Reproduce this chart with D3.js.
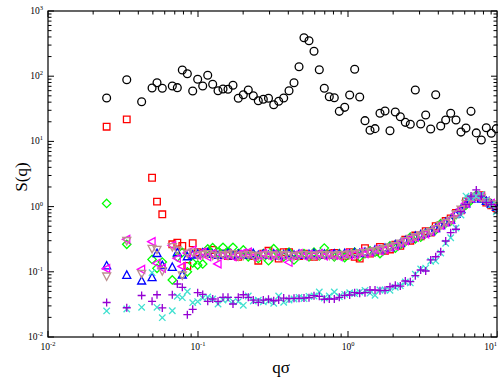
<!DOCTYPE html>
<html><head><meta charset="utf-8">
<script src="https://cdn.jsdelivr.net/npm/d3@7"></script>
<style>html,body{margin:0;padding:0;background:#fff;}svg{display:block;}</style>
</head><body><svg id="c" width="498" height="385"></svg>
<script>
const qValues = [0.0246,0.0335,0.0421,0.0494,0.0533,0.0578,0.0674,0.0728,0.0786,0.0849,0.0922,0.0995,0.1075,0.1161,0.1253,0.136,0.1468,0.1585,0.1711,0.1856,0.2005,0.2164,0.2337,0.2523,0.2725,0.2951,0.3197,0.3451,0.3726,0.4044,0.4365,0.4715,0.5088,0.5495,0.5934,0.6437,0.695,0.7504,0.8103,0.875,0.9506,1.026,1.108,1.197,1.298,1.402,1.514,1.634,1.765,1.905,2.067,2.232,2.41,2.602,2.81,3.052,3.296,3.558,3.843,4.15,4.48,4.838,5.248,5.665,6.116,6.607,7.166,7.739,8.356,9.022,9.743];
const sCircle = [46.3,88.4,40.6,65.9,79.5,65.2,70.8,66.7,124.5,109.2,59.3,89.7,70.8,103.2,75.1,59.9,63.6,63.0,72.5,45.8,52.0,61.4,50.2,42.1,44.2,46.0,36.5,41.2,46.3,59.9,79.5,139.9,389.5,350.4,240.9,125.8,65.2,48.5,46.8,28.9,33.3,51.5,127.6,48.0,20.8,14.8,15.7,27.0,29.3,14.6,28.2,23.9,19.6,18.3,61.4,18.5,25.4,15.5,52.0,17.2,21.3,27.0,21.3,13.9,16.0,28.9,13.5,10.5,16.2,13.3,15.7];
const sSquare = [16.8,21.8,null,2.77,1.19,0.762,0.264,0.279,0.249,0.123,0.274,0.2,0.19,0.2,0.216,0.18,0.19,0.175,0.185,0.17,0.18,0.19,0.175,0.148,0.19,0.21,0.18,0.16,0.2,0.2,0.18,0.175,0.19,0.18,0.17,0.185,0.18,0.19,0.195,0.18,0.175,0.2,0.17,0.16,0.23,0.19,0.2,0.24,0.21,0.22,0.26,0.25,0.31,0.3,0.36,0.35,0.42,0.4,0.5,0.52,0.6,0.66,0.8,0.88,1.2,1.3,1.4,1.5,1.15,1.05,0.95];
const sDiamond = [1.12,0.264,null,0.155,0.113,0.141,0.0749,0.169,0.198,0.1,0.137,0.127,0.132,0.224,0.234,0.2,0.237,0.2,0.237,0.19,0.216,0.17,0.185,0.16,0.19,0.148,0.226,0.19,0.17,0.2,0.152,0.18,0.19,0.17,0.2,0.175,0.231,0.185,0.17,0.19,0.165,0.185,0.2,0.17,0.19,0.21,0.2,0.19,0.22,0.25,0.23,0.26,0.29,0.34,0.32,0.34,0.39,0.42,0.44,0.55,0.56,0.6,0.75,0.9,1.05,1.25,1.5,1.35,1.2,1.1,1.0];
const sTriUp = [0.123,0.0884,0.0722,0.0812,0.191,0.125,0.117,0.196,0.0893,0.17,0.181,0.188,0.194,0.196,0.185,0.178,0.183,0.19,0.176,0.185,0.18,0.182,0.19,0.178,0.185,0.18,0.188,0.176,0.183,0.19,0.18,0.186,0.178,0.184,0.19,0.182,0.186,0.18,0.188,0.185,0.19,0.186,0.195,0.19,0.2,0.2,0.215,0.215,0.23,0.235,0.26,0.27,0.3,0.32,0.35,0.37,0.39,0.41,0.46,0.51,0.57,0.62,0.76,0.9,1.1,1.3,1.45,1.3,1.2,1.08,0.97];
const sTriLeft = [0.1116,0.315,0.109,0.29,0.135,0.114,0.255,0.161,0.121,0.194,0.216,0.18,0.2,0.17,0.19,0.132,0.18,0.19,0.17,0.185,0.195,0.2,0.17,0.18,0.19,0.175,0.185,0.17,0.18,0.14,0.18,0.19,0.175,0.185,0.18,0.19,0.175,0.185,0.18,0.17,0.19,0.18,0.185,0.2,0.19,0.2,0.22,0.21,0.22,0.24,0.25,0.28,0.3,0.33,0.34,0.37,0.38,0.42,0.47,0.52,0.58,0.63,0.78,0.92,1.12,1.35,1.42,1.4,1.22,1.12,1.02];
const sTriDown = [0.0862,0.302,0.0942,0.228,0.221,0.104,0.243,0.216,0.0893,0.194,0.2,0.18,0.185,0.19,0.18,0.175,0.185,0.18,0.19,0.175,0.18,0.185,0.18,0.175,0.18,0.185,0.178,0.18,0.185,0.18,0.175,0.18,0.185,0.18,0.178,0.18,0.185,0.18,0.178,0.185,0.182,0.188,0.19,0.195,0.198,0.205,0.21,0.218,0.228,0.24,0.255,0.275,0.3,0.325,0.345,0.365,0.39,0.415,0.46,0.52,0.57,0.62,0.77,0.91,1.12,1.34,1.45,1.39,1.19,1.1,1.0];
const sPlus = [0.0338,0.0281,0.0433,0.0353,0.0445,0.0279,0.0444,0.065,0.0578,0.022,0.0266,0.0478,0.0449,0.0353,0.0383,0.0353,0.0406,0.0406,0.0321,0.0406,0.0445,0.0406,0.0369,0.034,0.0369,0.0379,0.036,0.0369,0.0396,0.0387,0.0392,0.0392,0.0396,0.0401,0.043,0.0421,0.0379,0.0383,0.0383,0.0406,0.0436,0.0441,0.0478,0.0468,0.0478,0.0526,0.0526,0.0513,0.052,0.059,0.0621,0.0605,0.0722,0.0705,0.0871,0.1066,0.1028,0.152,0.17,0.203,0.297,0.398,0.449,0.835,1.08,1.45,1.8,1.45,1.16,1.08,0.909];
const sCross = [0.0251,0.0269,0.0285,0.0969,0.0285,0.0198,0.0253,0.0421,0.0401,0.0499,0.0336,0.0349,0.0396,0.0411,0.0383,0.0321,0.0369,0.0375,0.0349,0.0349,0.0306,0.0425,0.0357,0.0366,0.0345,0.0357,0.0329,0.0425,0.034,0.0369,0.0383,0.0406,0.0387,0.0421,0.0425,0.049,0.0396,0.0425,0.049,0.0418,0.0452,0.0478,0.0462,0.049,0.052,0.047,0.0436,0.0526,0.0526,0.052,0.0578,0.0612,0.0698,0.0675,0.0916,0.1104,0.114,0.145,0.147,0.194,0.274,0.333,0.47,0.74,1.45,1.36,1.45,1.54,1.26,1.06,0.83];
const xTickExps = [-2,-1,0,1];
const yTickExps = [-2,-1,0,1,2,3];

const series = [
  {vals: sCircle, sym: "circle", color: "#000000"},
  {vals: sSquare, sym: "square", color: "#ff0000"},
  {vals: sDiamond, sym: "diamond", color: "#00ff00"},
  {vals: sTriUp, sym: "triup", color: "#0000ff"},
  {vals: sTriLeft, sym: "trileft", color: "#ff00ff"},
  {vals: sTriDown, sym: "tridown", color: "#bc8f8f"},
  {vals: sCross, sym: "cross", color: "#40e0d0"},
  {vals: sPlus, sym: "plus", color: "#9400d3"}
];

const L = 48, R = 498, T = 11, B = 337;
const svg = d3.select("#c");
const x = d3.scaleLog().domain([0.01, 10]).range([L, R]);
const y = d3.scaleLog().domain([0.01, 1000]).range([B, T]);

function symPath(t){
  switch(t){
    case "square": return "M-3.3,-3.3H3.3V3.3H-3.3Z";
    case "diamond": return "M0,-4.2L4.2,0L0,4.2L-4.2,0Z";
    case "triup": return "M0,-4.4L4,3L-4,3Z";
    case "trileft": return "M-4.4,0L3,-4L3,4Z";
    case "tridown": return "M0,4.4L-4,-3L4,-3Z";
    case "plus": return "M-4,0H4M0,-4V4";
    case "cross": return "M-3.2,-3.2L3.2,3.2M-3.2,3.2L3.2,-3.2";
  }
}

const g = svg.append("g");
series.forEach(s => {
  const pts = qValues.map((q,i)=>({q, v: s.vals[i]})).filter(d => d.v != null);
  const sel = g.append("g");
  if (s.sym === "circle") {
    sel.selectAll("circle").data(pts).join("circle")
      .attr("cx", d=>x(d.q)).attr("cy", d=>y(d.v)).attr("r", 3.9)
      .attr("fill","none").attr("stroke", s.color).attr("stroke-width", 1.3);
  } else {
    sel.selectAll("path").data(pts).join("path")
      .attr("transform", d=>`translate(${x(d.q)},${y(d.v)})`)
      .attr("d", symPath(s.sym))
      .attr("fill","none").attr("stroke", s.color).attr("stroke-width", 1.3);
  }
});

// frame
svg.append("rect").attr("x", L).attr("y", T).attr("width", R-L-1).attr("height", B-T)
  .attr("fill","none").attr("stroke","#000").attr("stroke-width",1.2);

// ticks
const axG = svg.append("g").attr("stroke","#000").attr("stroke-width",1);
const xMinor = [], yMinor = [];
for (let e=-2; e<1; e++) for (let m=2; m<=9; m++) xMinor.push(m*Math.pow(10,e));
for (let e=-2; e<3; e++) for (let m=2; m<=9; m++) yMinor.push(m*Math.pow(10,e));
const xMajor = xTickExps.map(e=>Math.pow(10,e));
const yMajor = yTickExps.map(e=>Math.pow(10,e));
xMajor.forEach(v=>{ const px=x(v);
  axG.append("line").attr("x1",px).attr("x2",px).attr("y1",B).attr("y2",B-6);
  axG.append("line").attr("x1",px).attr("x2",px).attr("y1",T).attr("y2",T+6);});
xMinor.forEach(v=>{ const px=x(v);
  axG.append("line").attr("x1",px).attr("x2",px).attr("y1",B).attr("y2",B-3.5);
  axG.append("line").attr("x1",px).attr("x2",px).attr("y1",T).attr("y2",T+3.5);});
yMajor.forEach(v=>{ const py=y(v);
  axG.append("line").attr("x1",L).attr("x2",L+6).attr("y1",py).attr("y2",py);
  axG.append("line").attr("x1",R-1).attr("x2",R-7).attr("y1",py).attr("y2",py);});
yMinor.forEach(v=>{ const py=y(v);
  axG.append("line").attr("x1",L).attr("x2",L+3.5).attr("y1",py).attr("y2",py);
  axG.append("line").attr("x1",R-1).attr("x2",R-4.5).attr("y1",py).attr("y2",py);});

const font = "Liberation Serif, Times New Roman, serif";
xTickExps.forEach((e,i)=>{
  const last = i === xTickExps.length-1;
  const t = svg.append("text").attr("x", last ? R-1 : x(Math.pow(10,e))).attr("y", B+13)
    .attr("text-anchor", last ? "end" : "middle").attr("font-family",font).attr("font-size",9.5);
  t.append("tspan").text("10");
  t.append("tspan").attr("font-size",6.5).attr("dy",-4).text(String(e));
});
yTickExps.forEach(e=>{
  const t = svg.append("text").attr("x", L-5).attr("y", y(Math.pow(10,e))+3)
    .attr("text-anchor","end").attr("font-family",font).attr("font-size",9.5);
  t.append("tspan").text("10");
  t.append("tspan").attr("font-size",6.5).attr("dy",-4).text(String(e));
});

svg.append("text").attr("x", 281).attr("y", 373).attr("text-anchor","middle")
  .attr("font-family",font).attr("font-size",17).text("qσ");
svg.append("text").attr("transform","translate(27,177) rotate(-90)").attr("text-anchor","middle")
  .attr("font-family",font).attr("font-size",17).text("S(q)");
</script></body></html>
